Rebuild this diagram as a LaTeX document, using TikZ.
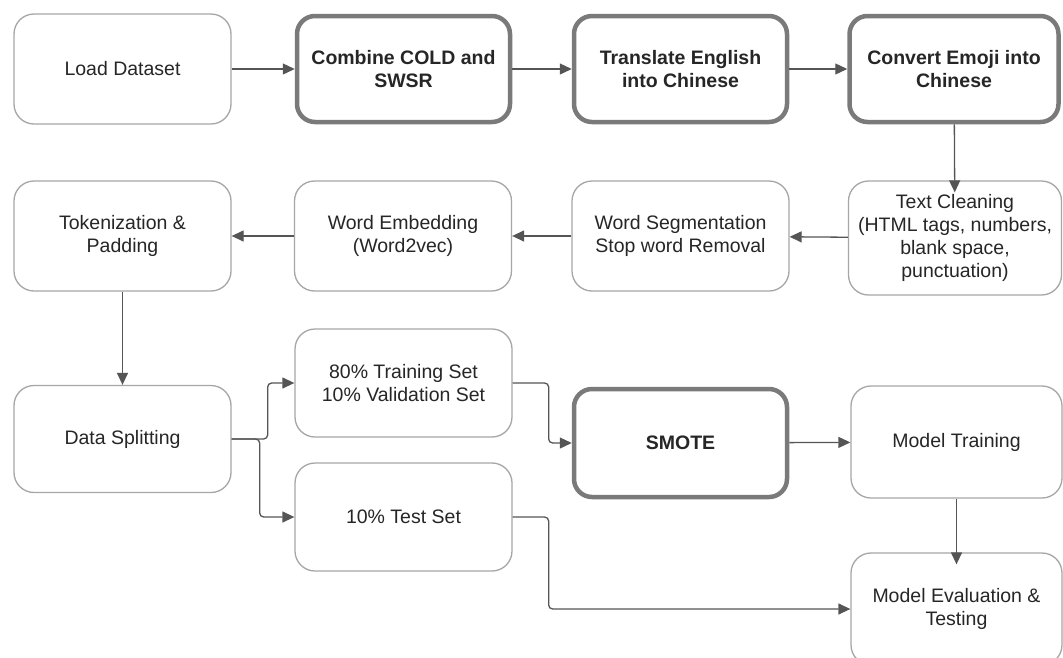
\documentclass[tikz,border=0pt]{standalone}
\usepackage{fontspec}
\setmainfont{Liberation Sans}
\usetikzlibrary{arrows.meta,positioning}
\definecolor{thinborder}{HTML}{A6A6A6}
\definecolor{thickborder}{HTML}{7A7A7A}
\definecolor{arrowcol}{HTML}{555555}
\definecolor{txt}{HTML}{262626}
\tikzset{
  box/.style={draw=thinborder, line width=1.3pt, rounded corners=20pt, fill=white,
    minimum width=217pt, minimum height=110pt, align=center, text=txt,
    font=\fontsize{19.5}{23}\selectfont, inner sep=2pt},
  thickbox/.style={box, draw=thickborder, line width=4.5pt, rounded corners=18pt,
    minimum width=213pt, minimum height=106pt, font=\fontsize{19.5}{23}\selectfont\bfseries},
  arr/.style={draw=arrowcol, line width=1.3pt, rounded corners=4pt,
    -{Triangle[length=12pt,width=11pt]}},
  intoarr/.style={arr, shorten >=-12pt},
}
\begin{document}
\begin{tikzpicture}[x=1pt,y=-1pt]
\useasboundingbox (0,0) rectangle (1063,657);
\clip (0,0) rectangle (1063,657);
% row 1
\node[box] (load) at (122.5,69) {Load Dataset};
\node[thickbox] (comb) at (403.5,69) {Combine COLD and\\SWSR};
\node[thickbox] (trans) at (680.5,69) {Translate English\\into Chinese};
\node[thickbox, minimum width=209pt] (conv) at (954,69) {Convert Emoji into\\Chinese};
% row 2
\node[box] (tok) at (122.5,236) {Tokenization \&\\Padding};
\node[box] (emb) at (403,236) {Word Embedding\\(Word2vec)};
\node[box] (seg) at (680.5,236) {Word Segmentation\\Stop word Removal};
\node[box, minimum width=213pt, minimum height=114pt] (clean) at (955,238) {Text Cleaning\\(HTML tags, numbers,\\blank space,\\punctuation)};
% row 3
\node[box, minimum height=107pt] (ds) at (122.5,439) {Data Splitting};
\node[box, minimum height=108pt] (train) at (403.5,383) {80\% Training Set\\10\% Validation Set};
\node[box, minimum height=108pt] (test) at (403.5,517) {10\% Test Set};
\node[thickbox, minimum height=108pt] (smote) at (680.5,443) {SMOTE};
\node[box, minimum width=211pt, minimum height=112pt] (mtrain) at (956.5,442) {Model Training};
\node[box, minimum width=211pt, minimum height=112pt] (meval) at (956.5,609) {Model Evaluation \&\\Testing};
% connectors
\draw[arr] (load) -- (comb);
\draw[arr] (comb) -- (trans);
\draw[arr] (trans) -- (conv);
\draw[intoarr] (conv) -- (clean);
\draw[arr] (clean) -- (seg);
\draw[arr] (seg) -- (emb);
\draw[arr] (emb) -- (tok);
\draw[arr] (tok) -- (ds);
\draw[arr] (ds.east) -- ++(36,0) |- (train.west);
\draw[arr] (ds.east) -- ++(28,0) |- (test.west);
\draw[arr] (train.east) -- ++(36,0) |- (smote.west);
\draw[arr] (test.east) -- ++(36,0) |- (meval.west);
\draw[arr] (smote) -- (mtrain);
\draw[intoarr] (mtrain) -- (meval);
\end{tikzpicture}
\end{document}
